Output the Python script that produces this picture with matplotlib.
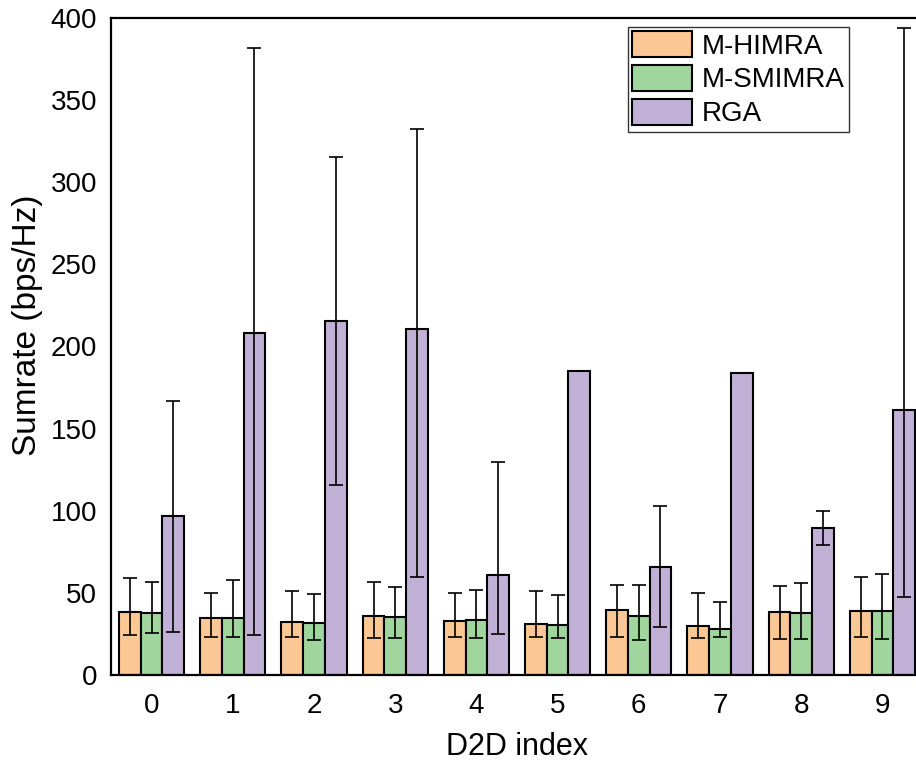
import numpy as np
import matplotlib
matplotlib.use("Agg")
import matplotlib.pyplot as plt

plt.rcParams['font.family'] = ['Liberation Sans', 'DejaVu Sans']

d2d_index = list(range(10))
series_names = ["M-HIMRA", "M-SMIMRA", "RGA"]
colors = ["#FBC895", "#A0D69D", "#C2B1D6"]

# mean sumrate per D2D pair
himra = [38.2, 34.5, 32.1, 35.7, 32.9, 31.2, 39.6, 29.6, 38.4, 39.2]
smimra = [37.9, 34.9, 31.5, 35.5, 33.5, 30.2, 35.9, 28.2, 37.6, 38.8]
rga = [96.6, 208.2, 215.5, 210.8, 60.7, 185.1, 65.8, 183.9, 89.5, 161.1]

# error bar extents (low, high); None where no spread is reported
himra_lo = [24.2, 23.1, 22.9, 22.3, 23.1, 23.1, 23.1, 22.3, 21.9, 23.1]
himra_hi = [59.2, 50.1, 51.1, 56.6, 49.9, 51.3, 54.6, 49.9, 54.0, 59.5]
smimra_lo = [25.6, 23.3, 21.3, 22.3, 22.7, 22.3, 21.1, 22.9, 21.7, 22.1]
smimra_hi = [56.8, 57.6, 49.5, 53.8, 51.9, 48.9, 54.6, 44.6, 55.8, 61.3]
rga_lo = [26.2, 24.5, 115.7, 59.7, 25.2, None, 29.0, None, 79.1, 47.5]
rga_hi = [167.0, 381.5, 315.4, 332.2, 129.9, None, 102.9, None, 99.8, 394.1]

fig = plt.figure(figsize=(9.16, 7.66), dpi=100)
ax = fig.add_axes([111 / 916, 1 - 675 / 766, (923 - 111) / 916, (675 - 18) / 766])

x = np.arange(len(d2d_index))
width = 0.267
offsets = [-width, 0, width]
means = [himra, smimra, rga]
lows = [himra_lo, smimra_lo, rga_lo]
highs = [himra_hi, smimra_hi, rga_hi]

for name, col, off, m, lo, hi in zip(series_names, colors, offsets, means, lows, highs):
    ax.bar(x + off, m, width, color=col, edgecolor="black", linewidth=1.5,
           label=name, zorder=2)
    idx = [i for i in range(len(m)) if lo[i] is not None]
    mm = np.array([m[i] for i in idx])
    ll = np.array([lo[i] for i in idx])
    hh = np.array([hi[i] for i in idx])
    ax.errorbar(x[idx] + off, mm, yerr=[mm - ll, hh - mm], fmt="none",
                ecolor="black", elinewidth=1.2, capsize=5, capthick=1.2, zorder=3)

ax.set_xlim(-0.5, 9.5)
ax.set_ylim(0, 400)
ax.set_xticks(x)
ax.set_xticklabels([str(i) for i in d2d_index])
ax.set_yticks(np.arange(0, 401, 50))
ax.tick_params(axis="both", length=0, labelsize=20)
ax.tick_params(axis="x", pad=13)
ax.tick_params(axis="y", pad=10)
ax.set_xlabel("D2D index", fontsize=22, labelpad=9)
ax.set_ylabel("Sumrate (bps/Hz)", fontsize=24, va="center")
ax.yaxis.set_label_coords((28 - 111) / 812, (675 - 325) / 657)

for s in ax.spines.values():
    s.set_linewidth(1.6)
    s.set_color("black")

leg = ax.legend(loc="upper left", bbox_to_anchor=(628 / 916, 1 - 27 / 766),
                bbox_transform=fig.transFigure, fontsize=20, frameon=True,
                fancybox=False, handlelength=2.15, handleheight=1.05,
                borderpad=0.15, labelspacing=0.2, handletextpad=0.35,
                borderaxespad=0)
leg.get_frame().set_edgecolor("black")
leg.get_frame().set_linewidth(1.0)

fig.savefig("out.png", dpi=100)
